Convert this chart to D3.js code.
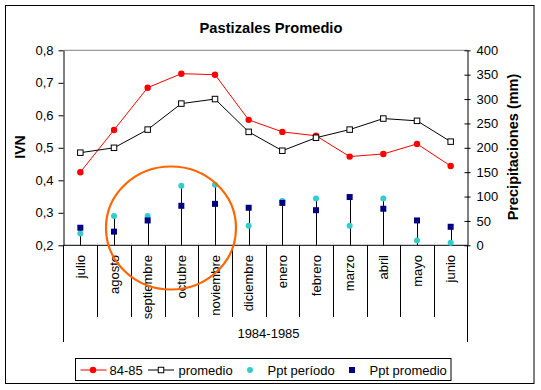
<!DOCTYPE html>
<html><head><meta charset="utf-8">
<script src="https://cdn.jsdelivr.net/npm/d3@7"></script>
<style>body{margin:0;background:#fff}svg{display:block}text{font-family:"Liberation Sans",Arial,sans-serif}</style>
</head><body>
<svg id="c" width="541" height="390"></svg>
<script>
const months = ["julio","agosto","septiembre","octubre","noviembre","diciembre","enero","febrero","marzo","abril","mayo","junio"];
const ivn8485 = [0.425,0.555,0.685,0.728,0.725,0.586,0.549,0.537,0.473,0.481,0.512,0.444];
const ivnProm = [0.485,0.500,0.556,0.636,0.650,0.549,0.491,0.531,0.556,0.590,0.583,0.519];
const pptPeriodo = [24,60,60,122,124,40,91,96,40,96,10,5];
const pptProm = [36,28,51,81,85,77,87,72,99,75,51,38];
const ivnTicks = [0.2,0.3,0.4,0.5,0.6,0.7,0.8];
const pptTicks = [0,50,100,150,200,250,300,350,400];
const periodLabel = "1984-1985";
const seriesNames = ["84-85","promedio","Ppt período","Ppt promedio"];

const svg = d3.select("#c");
const L = 63.5, R = 467.5, T = 50.3, B = 245.3;
const x = d3.scaleBand().domain(months).range([L, R]);
const yL = d3.scaleLinear().domain([0.2,0.8]).range([B, T]);
const yR = d3.scaleLinear().domain([0,400]).range([B, T]);

// outer border
svg.append("rect").attr("x",5.5).attr("y",5.5).attr("width",528.5).attr("height",378).attr("fill","#fff").attr("stroke","#000");

// title
svg.append("text").attr("x",271).attr("y",33).attr("text-anchor","middle").attr("font-weight","bold").attr("font-size","14.7px").text("Pastizales Promedio");

// plot top border
svg.append("line").attr("x1",L).attr("x2",R).attr("y1",T).attr("y2",T).attr("stroke","#808080");

// left axis
const gl = svg.append("g").attr("transform",`translate(${L},0)`)
  .call(d3.axisLeft(yL).tickValues(ivnTicks).tickSizeInner(5).tickSizeOuter(0).tickPadding(5)
    .tickFormat(d => d.toFixed(1).replace(".", ",")));
gl.selectAll("text").attr("font-size","13px").attr("fill","#000").style("font-family","'Liberation Sans',Arial,sans-serif");
gl.selectAll("line,path").attr("stroke","#000");

// right axis
const gr = svg.append("g").attr("transform",`translate(${R},0)`)
  .call(d3.axisRight(yR).tickValues(pptTicks).tickSizeInner(3).tickSizeOuter(0).tickPadding(6));
gr.selectAll(".tick line").attr("x1",-3);
gr.selectAll("text").attr("font-size","13px").attr("fill","#000").style("font-family","'Liberation Sans',Arial,sans-serif");
gr.selectAll("line,path").attr("stroke","#000");

// axis titles
svg.append("text").attr("transform","translate(25,147) rotate(-90)").attr("text-anchor","middle")
  .attr("font-weight","bold").attr("font-size","14px").text("IVN");
svg.append("text").attr("transform","translate(518,147) rotate(-90)").attr("text-anchor","middle")
  .attr("font-weight","bold").attr("font-size","14.5px").text("Precipitaciones (mm)");

// bottom axis line & category separators
svg.append("line").attr("x1",L).attr("x2",R).attr("y1",B).attr("y2",B).attr("stroke","#000");
svg.append("g").selectAll("line").data(months.slice(1)).join("line")
  .attr("x1",d=>Math.round(x(d))+0.5).attr("x2",d=>Math.round(x(d))+0.5)
  .attr("y1",B).attr("y2",317).attr("stroke","#000");
[L,R].forEach(v=>svg.append("line").attr("x1",v).attr("x2",v).attr("y1",B).attr("y2",342).attr("stroke","#000"));
svg.append("g").selectAll("text").data(months).join("text")
  .attr("transform",d=>`translate(${x(d)+x.bandwidth()/2+4.5},255) rotate(-90)`)
  .attr("text-anchor","end").attr("font-size","13px").text(d=>d);
svg.append("text").attr("x",(L+R)/2+3).attr("y",338).attr("text-anchor","middle").attr("font-size","13px").text(periodLabel);

const cx = d => x(d)+x.bandwidth()/2;

// drop lines
svg.append("g").selectAll("line").data(months).join("line")
  .attr("x1",d=>Math.round(cx(d))+0.5).attr("x2",d=>Math.round(cx(d))+0.5)
  .attr("y1",(d,i)=>yR(Math.max(pptPeriodo[i],pptProm[i]))).attr("y2",B).attr("stroke","#000");

// lines
const lineL = d3.line().x((d,i)=>cx(months[i])).y(d=>yL(d));
svg.append("path").attr("d",lineL(ivn8485)).attr("fill","none").attr("stroke","#ff0000");
svg.append("path").attr("d",lineL(ivnProm)).attr("fill","none").attr("stroke","#000");

// markers
svg.append("g").selectAll("circle").data(ivn8485).join("circle")
  .attr("cx",(d,i)=>cx(months[i])).attr("cy",d=>yL(d)).attr("r",3.2).attr("fill","#ff0000");
svg.append("g").selectAll("rect").data(ivnProm).join("rect")
  .attr("x",(d,i)=>cx(months[i])-2.75).attr("y",d=>yL(d)-2.75).attr("width",5.5).attr("height",5.5)
  .attr("fill","#fff").attr("stroke","#000");
svg.append("g").selectAll("circle").data(pptPeriodo).join("circle")
  .attr("cx",(d,i)=>cx(months[i])).attr("cy",d=>yR(d)).attr("r",3).attr("fill","#33cccc");
svg.append("g").selectAll("rect").data(pptProm).join("rect")
  .attr("x",(d,i)=>cx(months[i])-3).attr("y",d=>yR(d)-3).attr("width",6).attr("height",6)
  .attr("fill","#000080");

// orange ellipse annotation
svg.append("ellipse").attr("cx",171).attr("cy",228).attr("rx",65).attr("ry",61.5)
  .attr("fill","none").attr("stroke","#ff6600").attr("stroke-width",2.2);

// legend
const lg = svg.append("g");
lg.append("rect").attr("x",75.5).attr("y",358.5).attr("width",375.5).attr("height",22).attr("fill","#fff").attr("stroke","#000");
const ly = 370;
lg.append("line").attr("x1",80.5).attr("x2",106.5).attr("y1",ly).attr("y2",ly).attr("stroke","#ff0000");
lg.append("circle").attr("cx",93).attr("cy",ly).attr("r",3.2).attr("fill","#ff0000");
lg.append("text").attr("x",109.5).attr("y",ly+4.5).attr("font-size","13px").text(seriesNames[0]);
lg.append("line").attr("x1",148).attr("x2",174).attr("y1",ly).attr("y2",ly).attr("stroke","#000");
lg.append("rect").attr("x",158.25).attr("y",ly-2.75).attr("width",5.5).attr("height",5.5).attr("fill","#fff").attr("stroke","#000");
lg.append("text").attr("x",178.5).attr("y",ly+4.5).attr("font-size","13px").text(seriesNames[1]);
lg.append("circle").attr("cx",250).attr("cy",ly).attr("r",3).attr("fill","#33cccc");
lg.append("text").attr("x",267.5).attr("y",ly+4.5).attr("font-size","13px").text(seriesNames[2]);
lg.append("rect").attr("x",349).attr("y",ly-3).attr("width",6).attr("height",6).attr("fill","#000080");
lg.append("text").attr("x",369.5).attr("y",ly+4.5).attr("font-size","13px").text(seriesNames[3]);
</script>
</body></html>
